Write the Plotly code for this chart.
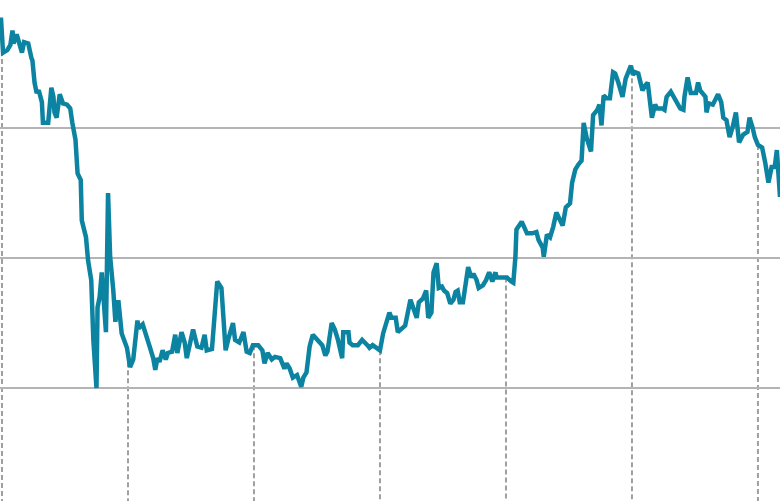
import numpy as np
import plotly.graph_objects as go

# time in months from the first year marker
months = [
    -0.1, 0.1, 0.5, 0.8, 1.0, 1.1, 1.4, 1.6, 1.9, 2.1, 2.5, 2.8, 2.9, 3.1, 3.3, 3.5, 3.8, 3.9, 4.4, 4.7,
    4.9, 5.0, 5.2, 5.5, 5.8, 6.2, 6.5, 6.7, 7.0, 7.2, 7.5, 7.6, 8.0, 8.2, 8.5, 8.7, 9.0, 9.1, 9.3, 9.5,
    9.6, 9.9, 10.1, 10.3, 10.6, 10.8, 11.0, 11.1, 11.4, 11.7, 11.9, 12.2, 12.5, 12.9, 13.0, 13.4, 13.8, 14.1, 14.4, 14.6,
    14.8, 15.0, 15.3, 15.6, 15.8, 16.2, 16.5, 16.7, 17.1, 17.4, 17.6, 18.2, 18.6, 19.0, 19.3, 19.5, 20.0, 20.5, 20.9, 21.3,
    21.6, 22.0, 22.2, 22.6, 23.0, 23.3, 23.6, 23.9, 24.4, 24.8, 25.0, 25.3, 25.7, 26.0, 26.5, 26.9, 27.1, 27.4, 27.7, 28.1,
    28.5, 28.7, 29.0, 29.3, 29.6, 30.0, 30.5, 30.8, 31.0, 31.4, 31.7, 32.0, 32.4, 32.5, 33.0, 33.1, 33.4, 33.9, 34.3, 34.8,
    35.0, 35.3, 35.7, 36.0, 36.3, 36.6, 36.9, 37.1, 37.5, 37.7, 38.1, 38.4, 38.9, 39.1, 39.5, 39.7, 40.1, 40.4, 40.6, 40.9,
    41.1, 41.4, 41.6, 41.9, 42.1, 42.4, 42.7, 43.0, 43.2, 43.4, 43.6, 43.9, 44.2, 44.4, 44.7, 44.9, 45.2, 45.4, 45.8, 46.1,
    46.4, 46.7, 47.0, 47.1, 47.6, 48.1, 48.5, 48.7, 48.9, 49.0, 49.5, 49.7, 50.0, 50.5, 50.9, 51.1, 51.5, 51.6, 51.9, 52.2,
    52.5, 52.8, 53.0, 53.4, 53.7, 54.1, 54.3, 54.6, 54.9, 55.2, 55.4, 55.7, 56.1, 56.3, 56.7, 56.9, 57.1, 57.3, 57.6, 57.9,
    58.2, 58.4, 58.7, 59.0, 59.1, 59.4, 59.6, 59.9, 60.1, 60.3, 60.6, 60.9, 61.0, 61.3, 61.5, 61.9, 62.2, 62.4, 62.9, 63.1,
    63.3, 63.7, 64.0, 64.3, 64.6, 64.9, 65.0, 65.3, 65.6, 66.1, 66.3, 66.5, 67.0, 67.1, 67.3, 67.7, 68.2, 68.5, 68.7, 69.0,
    69.3, 69.6, 69.9, 70.2, 70.6, 71.0, 71.2, 71.5, 71.7, 72.0, 72.4, 72.7, 73.0, 73.3, 73.6, 73.8, 74.1,
]

values = [
    38.5, 35.8, 36.0, 36.4, 37.5, 36.5, 37.2, 36.6, 35.8, 36.6, 36.5, 35.4, 35.2, 33.5, 32.7, 32.9, 32.0, 30.4, 30.4, 33.1,
    32.4, 31.2, 30.8, 32.6, 31.9, 31.8, 31.5, 30.4, 29.1, 26.5, 26.0, 22.9, 21.6, 19.8, 18.3, 13.7, 10.0, 16.2, 17.0, 18.9,
    17.5, 14.3, 25.0, 20.1, 17.5, 15.1, 16.6, 16.6, 14.2, 13.5, 13.1, 11.6, 12.2, 15.2, 14.6, 14.9, 13.7, 13.1, 12.3, 11.4,
    12.3, 12.0, 12.9, 12.2, 12.7, 12.8, 14.1, 12.7, 14.3, 13.5, 12.3, 14.5, 13.2, 13.1, 14.1, 12.9, 13.0, 18.2, 17.7, 12.9,
    13.9, 15.0, 13.7, 13.5, 14.3, 12.8, 12.7, 13.3, 13.3, 12.9, 11.9, 12.7, 12.2, 12.4, 12.3, 11.5, 11.9, 11.5, 10.8, 11.0,
    10.1, 10.8, 11.2, 13.2, 14.1, 13.7, 13.3, 12.5, 12.8, 15.0, 14.5, 13.7, 12.3, 14.3, 14.3, 13.5, 13.3, 13.3, 13.7, 13.3,
    13.1, 13.3, 13.1, 12.9, 14.2, 15.1, 15.8, 15.4, 15.4, 14.3, 14.6, 14.8, 16.8, 16.4, 15.4, 16.6, 16.9, 17.5, 15.4, 15.8,
    18.9, 19.6, 17.7, 17.8, 17.5, 17.3, 16.5, 16.8, 17.4, 17.5, 16.6, 16.6, 18.5, 19.3, 18.5, 18.8, 18.3, 17.7, 17.9, 18.3,
    18.9, 18.2, 18.9, 18.5, 18.5, 18.5, 18.2, 18.1, 20.1, 22.2, 22.8, 22.4, 21.9, 21.9, 22.0, 21.4, 20.8, 20.1, 21.8, 21.6,
    22.4, 23.5, 23.2, 22.5, 23.9, 24.2, 25.8, 26.8, 27.2, 27.5, 30.4, 29.2, 28.2, 31.0, 31.4, 31.8, 30.2, 32.5, 32.3, 32.3,
    34.3, 34.2, 33.5, 32.5, 32.4, 33.8, 34.3, 34.8, 34.1, 34.3, 34.2, 33.1, 32.9, 33.3, 33.5, 30.8, 31.8, 31.5, 31.5, 31.4,
    32.4, 32.8, 32.4, 32.0, 31.5, 31.4, 32.4, 33.9, 32.7, 32.7, 33.5, 32.9, 32.4, 31.2, 31.9, 31.8, 32.6, 32.0, 30.8, 30.6,
    29.3, 30.1, 31.2, 28.9, 29.5, 29.7, 30.8, 30.0, 29.3, 28.7, 28.5, 27.3, 25.8, 27.0, 27.0, 28.3, 24.7,
]

year_marks = [0, 12, 24, 36, 48, 60, 72]
grid_values = [10, 20, 30]

x_range = [-0.19, 74.1]
y_range = [1.31, 39.85]

fig = go.Figure()

# drop lines from the series down to the bottom at each year marker
for m in year_marks:
    top = float(np.interp(m, months, values))
    fig.add_shape(
        type="line", xref="x", yref="y",
        x0=m, x1=m, y0=top, y1=y_range[0],
        line=dict(color="#a0a0a0", width=2, dash="5px,3px"),
        layer="below",
    )

fig.add_trace(go.Scatter(
    x=months, y=values, mode="lines",
    line=dict(color="#0c84a1", width=4.5, shape="linear"),
    hoverinfo="skip", showlegend=False,
))

fig.update_layout(
    width=780, height=501,
    margin=dict(l=0, r=0, t=0, b=0),
    paper_bgcolor="white", plot_bgcolor="white",
    showlegend=False,
)
fig.update_xaxes(range=x_range, showgrid=False, zeroline=False,
                 showticklabels=False, showline=False, ticks="")
fig.update_yaxes(range=y_range, tickvals=grid_values, showgrid=True,
                 gridcolor="#b4b4b4", gridwidth=2, zeroline=False,
                 showticklabels=False, showline=False, ticks="")

fig.write_html(
    "out.html",
    config={"displayModeBar": False},
    post_script="document.body.style.margin='0';document.body.style.overflow='hidden';",
)
